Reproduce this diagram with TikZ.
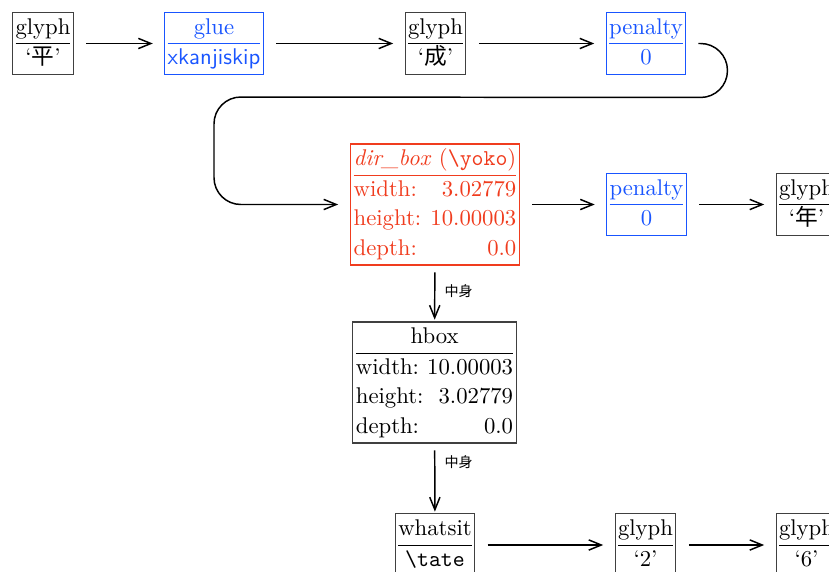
\documentclass[tikz,border=0pt]{standalone}
\usepackage{fontspec}
\newfontfamily\cjk{Noto Sans CJK JP}
\usetikzlibrary{arrows.meta}
\definecolor{nblue}{RGB}{25,85,255}
\definecolor{nred}{RGB}{240,60,30}
\renewcommand{\arraystretch}{1.08}
\newcommand{\twobox}[2]{\begin{tabular}{@{}c@{}}#1\\\hline #2\end{tabular}}
\newcommand{\dimbox}[4]{\begin{tabular}{@{}l@{\,}r@{}}\multicolumn{2}{@{}c@{}}{#1}\\\hline width: & #2\\ height: & #3\\ depth: & #4\end{tabular}}
\tikzset{
  nd/.style={draw=black!75, inner xsep=1.3pt, inner ysep=0.5pt, line width=0.45pt},
  bl/.style={nd, draw=nblue, text=nblue},
  rd/.style={nd, draw=nred, text=nred},
  arr/.style={-{Straight Barb[length=5.5pt,width=4.5pt]}, line width=0.65pt, shorten <=5.5pt, shorten >=5pt},
  varr/.style={-{Straight Barb[length=5.5pt,width=4.5pt]}, line width=0.65pt, shorten <=3pt, shorten >=0.8pt},
  lbl/.style={font=\cjk\fontsize{6.2}{7}\selectfont, anchor=west, inner sep=0pt, xshift=4pt}
}
\begin{document}
\begin{tikzpicture}[x=0.44pt,y=-0.44pt]
\clip (0,0) rectangle (829,572);
\node[nd] (g1) at (43,43.5) {\twobox{glyph}{`{\cjk 平}'}};
\node[bl] (gl) at (214,43.5) {\twobox{glue}{\sffamily xkanjiskip}};
\node[nd] (g2) at (435.5,43.5) {\twobox{glyph}{`{\cjk 成}'}};
\node[bl] (p1) at (646,43.5) {\twobox{penalty}{0}};
\node[rd] (db) at (435,204.5) {\dimbox{\textit{dir\_box} ({\ttfamily\textbackslash yoko})}{3.02779}{10.00003}{0.0}};
\node[bl] (p2) at (646.5,204.5) {\twobox{penalty}{0}};
\node[nd] (g3) at (806.5,204.5) {\twobox{glyph}{`{\cjk 年}'}};
\node[nd] (hb) at (434.5,382.5) {\dimbox{hbox}{10.00003}{3.02779}{0.0}};
\node[nd] (ws) at (435,545) {\twobox{whatsit}{\ttfamily\textbackslash tate}};
\node[nd] (g4) at (645.5,545) {\twobox{glyph}{`2'}};
\node[nd] (g5) at (806.5,545) {\twobox{glyph}{`6'}};
\draw[arr] (g1) -- (gl);
\draw[arr] (gl) -- (g2);
\draw[arr] (g2) -- (p1);
\draw[arr] (db) -- (p2);
\draw[arr] (p2) -- (g3);
\draw[arr] (ws) -- (g4);
\draw[arr] (g4) -- (g5);
\draw[varr] (db) -- node[lbl, pos=0.45] {中身} (hb);
\draw[varr] (hb) -- node[lbl, pos=0.27] {中身} (ws);
\coordinate (c0) at ([xshift=5.3pt]p1.east);
\draw[-{Straight Barb[length=5.5pt,width=4.5pt]}, line width=0.65pt, rounded corners=11.8pt]
  (c0) -- ++(29,0) -- ++(0,54) -- (214,97) -- (214,204.5) -- ([xshift=-5.3pt]db.west);
\end{tikzpicture}
\end{document}
